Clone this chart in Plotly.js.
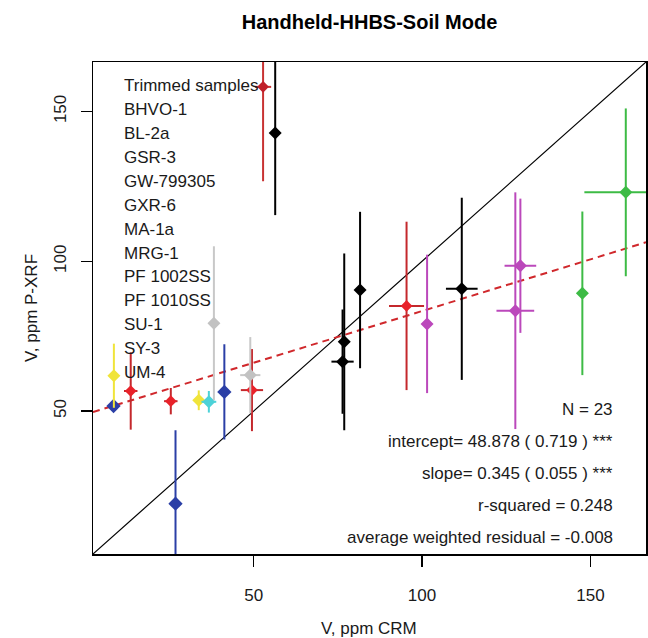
<!DOCTYPE html>
<html>
<head>
<meta charset="utf-8">
<script src="https://cdn.plot.ly/plotly-3.0.1.min.js"></script>
<style>html,body{margin:0;padding:0;background:#fff;}#chart{width:648px;height:638px;}</style>
</head>
<body>
<div id="chart"></div>
<script>
// ---------------- DATA ----------------
const chartTitle = 'Handheld-HHBS-Soil Mode';
const xTitle = 'V, ppm CRM';
const yTitle = 'V, ppm P-XRF';
const legendLabels = ['Trimmed samples','BHVO-1','BL-2a','GSR-3','GW-799305','GXR-6','MA-1a','MRG-1','PF 1002SS','PF 1010SS','SU-1','SY-3','UM-4'];
const statLabels = ['N = 23','intercept= 48.878 ( 0.719 ) ***','slope= 0.345 ( 0.055 ) ***','r-squared = 0.248','average weighted residual = -0.008'];
const fitIntercept = 48.878;
const fitSlope = 0.345;
const tickValues = [50, 100, 150];

// series: CRM value (x), P-XRF value (y), CRM uncertainty, P-XRF uncertainty
const s1CRM  = [56.4, 76.9, 76.4, 81.6, 111.8];
const s1XRF  = [142.8, 73.1, 66.5, 90.4, 90.8];
const s1CRMe = [0, 1.5, 3.3, 0.8, 4.7];
const s1XRFe = [27.4, 29.5, 17.4, 26.1, 30.4];

const s2CRM  = [13.5, 25.4, 49.5, 95.4];
const s2XRF  = [56.7, 53.3, 57.0, 85.1];
const s2CRMe = [2.0, 2.0, 3.3, 5.2];
const s2XRFe = [12.9, 4.4, 13.7, 28.1];

const s3CRM  = [52.8];
const s3XRF  = [158.2];
const s3CRMe = [2.4];
const s3XRFe = [31.5];

const s4CRM  = [8.4, 26.8, 41.3];
const s4XRF  = [51.7, 19.1, 56.4];
const s4CRMe = [1.0, 0.4, 0.4];
const s4XRFe = [1.0, 24.5, 15.9];

const s5CRM  = [8.5, 33.7];
const s5XRF  = [61.8, 53.6];
const s5CRMe = [0.4, 1.5];
const s5XRFe = [10.7, 3.3];

const s6CRM  = [36.7];
const s6XRF  = [53.1];
const s6CRMe = [2.2];
const s6XRFe = [3.6];

const s7CRM  = [38.2, 49.0];
const s7XRF  = [79.3, 62.0];
const s7CRMe = [0.4, 3.0];
const s7XRFe = [25.7, 12.7];

const s8CRM  = [101.5, 127.7, 129.2];
const s8XRF  = [79.1, 83.5, 98.5];
const s8CRMe = [0.4, 5.6, 4.7];
const s8XRFe = [23.1, 39.5, 22.4];

const s9CRM  = [147.6, 160.5];
const s9XRF  = [89.3, 123.0];
const s9CRMe = [0.4, 12.3];
const s9XRFe = [27.3, 28.0];

// ---------------- STYLE / LAYOUT ----------------
const axisRange = [2.3, 166.5];
const W = 648, H = 638;
const M = {l: 93, r: 2, t: 62, b: 84};
const PW = W - M.l - M.r, PH = H - M.t - M.b;
const px2x = p => (p - M.l) / PW;
const px2y = p => (H - M.b - p) / PH;
const FONT = 'Liberation Sans, Arial, sans-serif';
const TXT = '#1a1a1a';

const seriesDefs = [
  {x: s1CRM, y: s1XRF, ex: s1CRMe, ey: s1XRFe, mc: '#000000', bc: '#000000', size: 10},
  {x: s2CRM, y: s2XRF, ex: s2CRMe, ey: s2XRFe, mc: '#E8222A', bc: '#C4282C', size: 9},
  {x: s3CRM, y: s3XRF, ex: s3CRMe, ey: s3XRFe, mc: '#C0202A', bc: '#C83232', size: 9},
  {x: s4CRM, y: s4XRF, ex: s4CRMe, ey: s4XRFe, mc: '#2B3FA6', bc: '#2B3FA6', size: 11},
  {x: s5CRM, y: s5XRF, ex: s5CRMe, ey: s5XRFe, mc: '#F0E43A', bc: '#F0E43A', size: 10},
  {x: s6CRM, y: s6XRF, ex: s6CRMe, ey: s6XRFe, mc: '#4CD2D8', bc: '#4CD2D8', size: 10},
  {x: s7CRM, y: s7XRF, ex: s7CRMe, ey: s7XRFe, mc: '#C2C2C2', bc: '#C8C8C8', size: 10},
  {x: s8CRM, y: s8XRF, ex: s8CRMe, ey: s8XRFe, mc: '#BB48BB', bc: '#BB48BB', size: 10},
  {x: s9CRM, y: s9XRF, ex: s9CRMe, ey: s9XRFe, mc: '#3DBB45', bc: '#3DBB45', size: 10}
];

const traces = [];
// 1:1 line
traces.push({
  x: axisRange, y: axisRange, mode: 'lines', type: 'scatter',
  line: {color: '#000', width: 1.2}, hoverinfo: 'skip', showlegend: false
});
// regression line
traces.push({
  x: axisRange, y: axisRange.map(v => fitIntercept + fitSlope * v),
  mode: 'lines', type: 'scatter',
  line: {color: '#D0282C', width: 2, dash: '7px,5px'}, hoverinfo: 'skip', showlegend: false
});
seriesDefs.forEach(s => {
  traces.push({
    x: s.x, y: s.y, type: 'scatter', mode: 'markers', showlegend: false,
    marker: {symbol: 'diamond', size: s.size, color: s.mc, line: {width: 0}},
    error_x: {type: 'data', array: s.ex, visible: true, color: s.bc, thickness: 2, width: 0},
    error_y: {type: 'data', array: s.ey, visible: true, color: s.bc, thickness: 2, width: 0},
    cliponaxis: true
  });
});

const annotations = [];
legendLabels.forEach((t, i) => {
  annotations.push({
    text: t, xref: 'paper', yref: 'paper', x: px2x(122), y: px2y(85.5 + i * 23.93),
    xanchor: 'left', yanchor: 'middle', showarrow: false,
    font: {family: FONT, size: 17, color: TXT}
  });
});
statLabels.forEach((t, i) => {
  annotations.push({
    text: t, xref: 'paper', yref: 'paper', x: px2x(615), y: px2y(409.5 + i * 31.9),
    xanchor: 'right', yanchor: 'middle', showarrow: false,
    font: {family: FONT, size: 17, color: TXT}
  });
});
// axis titles
annotations.push({
  text: xTitle, xref: 'paper', yref: 'paper', x: px2x(369), y: px2y(628),
  xanchor: 'center', yanchor: 'middle', showarrow: false,
  font: {family: FONT, size: 17, color: TXT}
});
annotations.push({
  text: yTitle, xref: 'paper', yref: 'paper', x: px2x(31), y: px2y(308),
  xanchor: 'center', yanchor: 'middle', showarrow: false, textangle: -90,
  font: {family: FONT, size: 17, color: TXT}
});

const axisCommon = {
  range: axisRange, showgrid: false, zeroline: false,
  showline: true, mirror: true, linecolor: '#000', linewidth: 1.5,
  ticks: 'outside', ticklen: 11, tickwidth: 1.3, tickcolor: '#000',
  tickmode: 'array', tickvals: tickValues, ticktext: tickValues.map(String),
  tickfont: {family: FONT, size: 17, color: TXT}
};

const layout = {
  width: W, height: H,
  margin: M,
  paper_bgcolor: '#fff', plot_bgcolor: '#fff',
  showlegend: false,
  title: {
    text: chartTitle, x: 369.5 / W, xanchor: 'center', xref: 'container',
    y: 1 - 22 / H, yanchor: 'middle', yref: 'container',
    font: {family: FONT, size: 20, color: '#000', weight: 'bold'}
  },
  xaxis: Object.assign({}, axisCommon, {ticklabelstandoff: 14}),
  yaxis: Object.assign({}, axisCommon, {tickangle: -90, ticklabelstandoff: 8}),
  annotations: annotations
};

Plotly.newPlot('chart', traces, layout, {displayModeBar: false, staticPlot: true});
</script>
</body>
</html>
